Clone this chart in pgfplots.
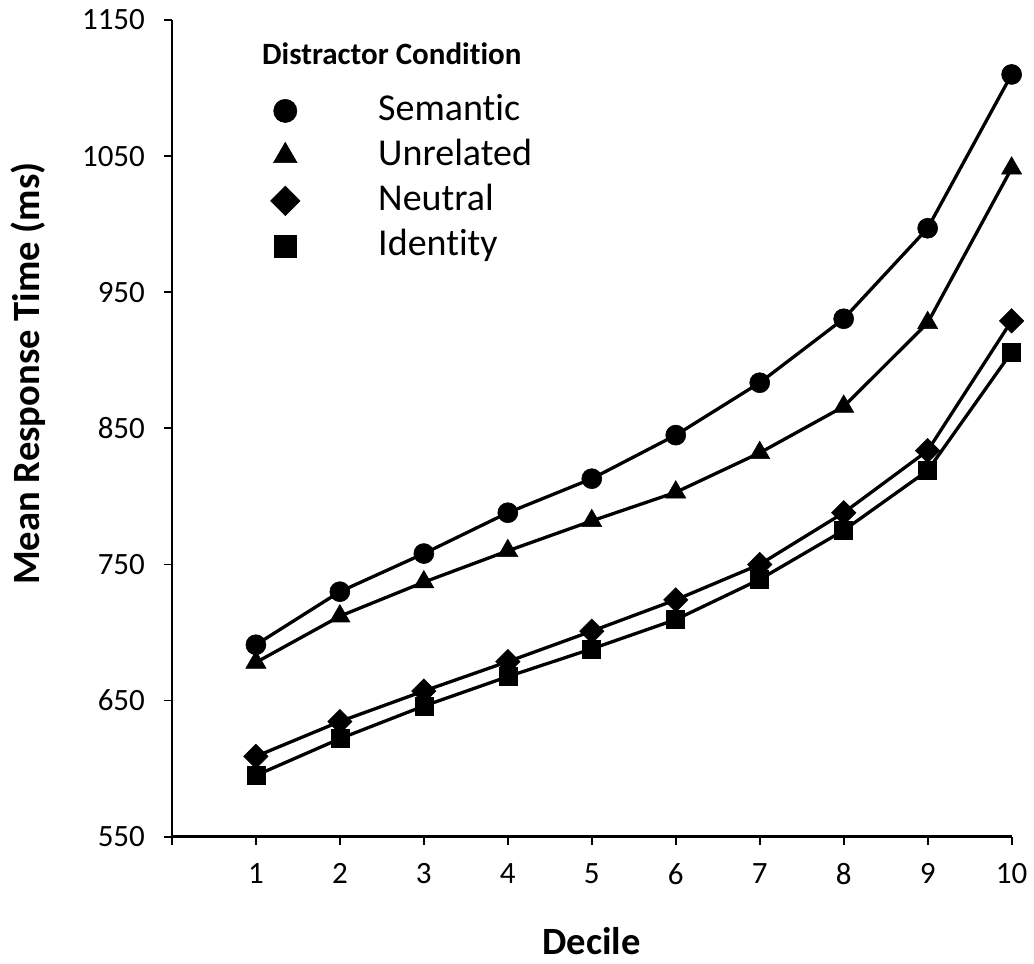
\documentclass[border=0pt]{standalone}
\usepackage{fontspec}
\setmainfont{Carlito}[Ligatures=CommonOff]
\usepackage{pgfplots}
\pgfplotsset{compat=1.18}
\begin{document}
\begin{tikzpicture}
\begin{axis}[
  at={(86pt,63.5pt)}, anchor=south west,
  scale only axis, width=420pt, height=408.5pt,
  xmin=0, xmax=10, ymin=550, ymax=1150,
  axis x line*=bottom, axis y line*=left,
  x axis line style={line width=1.5pt, -},
  y axis line style={line width=1.1pt, -},
  xtick={0,1,...,10}, xticklabels={,1,2,3,4,5,6,7,8,9,10},
  ytick={550,650,...,1150},
  tick align=outside, major tick length=4pt,
  tick style={black, line width=0.9pt},
  /pgf/number format/assume math mode=true,
  /pgf/number format/1000 sep={},
  ticklabel style={font=\fontsize{15.5}{18}\selectfont},
  xticklabel style={yshift=-6pt},
  yticklabel style={xshift=-6pt},
  xlabel={Decile}, ylabel={Mean Response Time (ms)},
  label style={font=\fontsize{19.3}{23}\selectfont\bfseries},
  xlabel style={at={(axis description cs:0.5,-0.1444)}, anchor=base},
  ylabel style={at={(axis description cs:-0.171,0.567)}, anchor=center},
  clip=false,
  legend style={draw=none, fill=none, at={(axis description cs:0.1107,0.9112)}, anchor=north west,
    font=\fontsize{19}{22}\selectfont, row sep=4.5pt, column sep=0pt, inner sep=0pt,
    nodes={inner sep=0pt, text height=14pt, text depth=4pt}},
  legend cell align=left,
  legend image code/.code={\path[draw=none, fill=none] (-10pt,0pt) -- (46.5pt,0pt); \draw[#1] plot coordinates {(0pt,0pt)};},
  every axis plot/.append style={black, line width=1.65pt},
]
\addplot[mark=*, mark size=5pt, mark options={solid, line width=0.3pt}, forget plot] coordinates {
(1,691) (2,730) (3,758) (4,788) (5,813) (6,845) (7,883.5) (8,930.5) (9,997) (10,1110)};
\addplot[mark=triangle*, mark size=5.8pt, mark options={solid, line width=0.3pt}, forget plot] coordinates {
(1,678) (2,712) (3,737) (4,760) (5,782) (6,803) (7,832) (8,866) (9,927.5) (10,1041)};
\addplot[mark=square*, mark size=4.3pt, mark options={solid, line width=0.3pt, rotate=45}, forget plot] coordinates {
(1,609) (2,634.6) (3,657) (4,678.6) (5,701) (6,724) (7,750) (8,788) (9,833.6) (10,929)};
\addplot[mark=square*, mark size=4.5pt, mark options={solid, line width=0.3pt}, forget plot] coordinates {
(1,595) (2,622) (3,646) (4,667.6) (5,688) (6,709.5) (7,739) (8,775) (9,819) (10,906)};
\addlegendimage{only marks, mark=*, mark size=5.8pt, black, mark options={line width=0.3pt}}
\addlegendentry{Semantic}
\addlegendimage{only marks, mark=triangle*, mark size=6.8pt, black, mark options={line width=0.3pt}}
\addlegendentry{Unrelated}
\addlegendimage{only marks, mark=square*, mark size=5.2pt, black, mark options={line width=0.3pt, rotate=45}}
\addlegendentry{Neutral}
\addlegendimage{only marks, mark=square*, mark size=5.5pt, black, mark options={line width=0.3pt}}
\addlegendentry{Identity}
\node[anchor=base west, font=\fontsize{15.5}{18}\selectfont\bfseries, inner sep=0pt] at (axis description cs:0.107,0.945) {Distractor Condition};
\end{axis}
\path[use as bounding box] (0,0) rectangle (517pt,482pt);
\end{tikzpicture}
\end{document}
